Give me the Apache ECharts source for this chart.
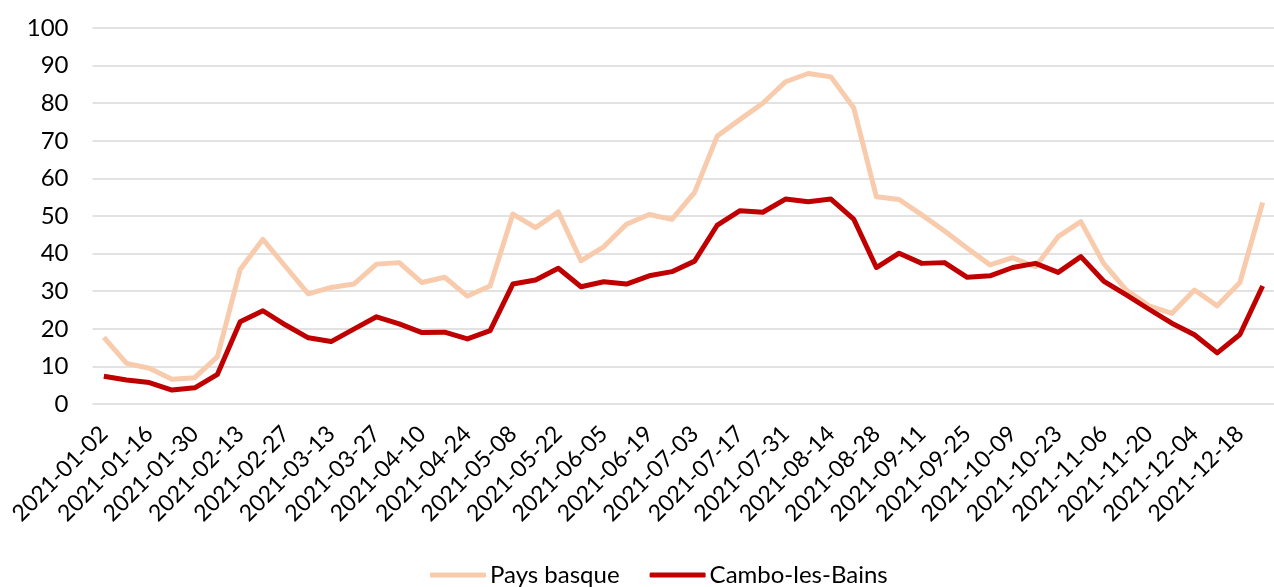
<!DOCTYPE html>
<html>
<head>
<meta charset="utf-8">
<script src="https://cdn.jsdelivr.net/npm/echarts@6/dist/echarts.min.js"></script>
<style>html,body{margin:0;padding:0;background:#fff}#c{width:1274px;height:587px}</style>
</head>
<body>
<div id="c"></div>
<script>
const categories = ["2021-01-02","2021-01-09","2021-01-16","2021-01-23","2021-01-30","2021-02-06","2021-02-13","2021-02-20","2021-02-27","2021-03-06","2021-03-13","2021-03-20","2021-03-27","2021-04-03","2021-04-10","2021-04-17","2021-04-24","2021-05-01","2021-05-08","2021-05-15","2021-05-22","2021-05-29","2021-06-05","2021-06-12","2021-06-19","2021-06-26","2021-07-03","2021-07-10","2021-07-17","2021-07-24","2021-07-31","2021-08-07","2021-08-14","2021-08-21","2021-08-28","2021-09-04","2021-09-11","2021-09-18","2021-09-25","2021-10-02","2021-10-09","2021-10-16","2021-10-23","2021-10-30","2021-11-06","2021-11-13","2021-11-20","2021-11-27","2021-12-04","2021-12-11","2021-12-18","2021-12-25"];
const paysBasque = [17.7,10.8,9.5,6.6,7.0,12.6,35.8,43.8,36.5,29.3,31.0,31.9,37.2,37.6,32.3,33.7,28.7,31.4,50.5,46.9,51.1,38.1,41.8,47.8,50.4,49.1,56.3,71.3,75.7,80.0,85.7,87.9,87.0,78.8,55.1,54.4,50.3,46.0,41.4,37.0,38.9,36.5,44.5,48.5,37.4,30.3,26.1,24.1,30.3,26.1,32.3,53.6];
const cambo = [7.4,6.4,5.7,3.7,4.3,7.9,21.9,24.8,21.0,17.6,16.6,19.9,23.2,21.3,19.0,19.1,17.3,19.5,31.9,33.0,36.1,31.2,32.5,31.9,34.1,35.2,38.0,47.6,51.4,51.0,54.5,53.8,54.5,49.2,36.3,40.1,37.4,37.6,33.7,34.1,36.3,37.4,35.0,39.2,32.7,29.0,25.2,21.5,18.4,13.6,18.5,31.4];
const yTicks = {min: 0, max: 100, interval: 10};

const FONT = 'Lato';
const chart = echarts.init(document.getElementById('c'));
chart.setOption({
  animation: false,
  grid: {left: 92.5, top: 28, width: 1189.5, height: 376, containLabel: false},
  legend: {
    left: 425, top: 558,
    itemWidth: 56, itemHeight: 5, itemGap: 30,
    icon: 'roundRect',
    textStyle: {fontFamily: FONT, fontSize: 24, color: '#000', padding: [0,0,0,-1]},
    data: ['Pays basque', 'Cambo-les-Bains']
  },
  xAxis: {
    type: 'category', data: categories, boundaryGap: true,
    axisLine: {show: false}, axisTick: {show: false},
    axisLabel: {interval: 1, rotate: 45, margin: 26, fontFamily: FONT, fontSize: 23, color: '#000'}
  },
  yAxis: {
    type: 'value', min: yTicks.min, max: yTicks.max, interval: yTicks.interval,
    axisLine: {show: false}, axisTick: {show: false},
    axisLabel: {margin: 24, fontFamily: FONT, fontSize: 24, color: '#000'},
    splitLine: {lineStyle: {color: '#D9D9D9', width: 1.5}}
  },
  series: [
    {name: 'Pays basque', type: 'line', data: paysBasque, symbol: 'none',
     lineStyle: {color: '#F8CBAD', width: 5, join: 'round'}, itemStyle: {color: '#F8CBAD'}},
    {name: 'Cambo-les-Bains', type: 'line', data: cambo, symbol: 'none',
     lineStyle: {color: '#C00000', width: 5, join: 'round'}, itemStyle: {color: '#C00000'}}
  ]
});
</script>
</body>
</html>
